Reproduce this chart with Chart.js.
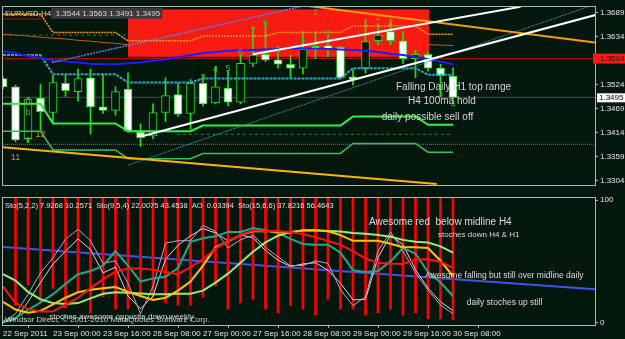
<!DOCTYPE html>
<html>
<head>
<meta charset="utf-8">
<title>EURUSD,H4</title>
<script src="https://cdn.jsdelivr.net/npm/chart.js@4.4.1/dist/chart.umd.min.js"></script>
<style>
  html, body { margin: 0; padding: 0; background: #04170c; }
  #wrap { position: relative; width: 625px; height: 339px; overflow: hidden; background: #04170c; }
  canvas { position: absolute; left: 0; display: block; }
  #priceChart { top: 0; }
  #oscChart { top: 191px; }
</style>
</head>
<body>
<div id="wrap">
  <canvas id="priceChart" width="625" height="192"></canvas>
  <canvas id="oscChart" width="625" height="148"></canvas>
</div>
<script>
// ---------- data ----------
// one x slot per H4 bar; the chart is shifted so some empty slots follow the last bar
var lastSlot = 47.36;
var timeTicks = [0, 4, 8, 12, 16, 20, 24, 28, 32, 36];
var timeLabels = ['22 Sep 2011', '23 Sep 00:00', '23 Sep 16:00', '26 Sep 08:00', '27 Sep 00:00',
  '27 Sep 16:00', '28 Sep 08:00', '29 Sep 00:00', '29 Sep 16:00', '30 Sep 08:00'];
var priceTicks = [1.3689, 1.3634, 1.3524, 1.3469, 1.3414, 1.3359, 1.3304];
var oscTicks = [0, 100];

// EURUSD H4 candles
var openP  = [1.3538, 1.3519, 1.3400, 1.3493, 1.3460, 1.3527, 1.3508, 1.3540, 1.3473, 1.3465,
              1.3514, 1.3415, 1.3406, 1.3460, 1.3501, 1.3458, 1.3527, 1.3482, 1.3516, 1.3484,
              1.3573, 1.3594, 1.3581, 1.3571, 1.3562, 1.3612, 1.3614, 1.3610, 1.3542, 1.3562,
              1.3625, 1.3646, 1.3625, 1.3584, 1.3594, 1.3562, 1.3544];
var highP  = [1.3542, 1.3523, 1.3495, 1.3525, 1.3545, 1.3547, 1.3560, 1.3560, 1.3547, 1.3519,
              1.3551, 1.3434, 1.3480, 1.3540, 1.3527, 1.3536, 1.3545, 1.3566, 1.3555, 1.3594,
              1.3657, 1.3668, 1.3610, 1.3592, 1.3646, 1.3646, 1.3636, 1.3612, 1.3560, 1.3675,
              1.3664, 1.3670, 1.3646, 1.3603, 1.3599, 1.3571, 1.3563];
var lowP   = [1.3514, 1.3393, 1.3391, 1.3419, 1.3436, 1.3497, 1.3486, 1.3410, 1.3458, 1.3454,
              1.3415, 1.3382, 1.3400, 1.3439, 1.3451, 1.3421, 1.3475, 1.3480, 1.3475, 1.3480,
              1.3566, 1.3577, 1.3562, 1.3538, 1.3549, 1.3584, 1.3588, 1.3538, 1.3523, 1.3551,
              1.3616, 1.3616, 1.3573, 1.3540, 1.3555, 1.3497, 1.3491];
var closeP = [1.3519, 1.3397, 1.3491, 1.3462, 1.3529, 1.3510, 1.3538, 1.3473, 1.3465, 1.3508,
              1.3417, 1.3402, 1.3460, 1.3499, 1.3456, 1.3527, 1.3480, 1.3519, 1.3484, 1.3573,
              1.3592, 1.3581, 1.3571, 1.3562, 1.3605, 1.3605, 1.3607, 1.3540, 1.3536, 1.3623,
              1.3638, 1.3625, 1.3584, 1.3594, 1.3562, 1.3545, 1.3495];

// indicators in the price window
var ma100 = [1.3601, 1.3597, 1.3590, 1.3586, 1.3580, 1.3577, 1.3575, 1.3572, 1.3571, 1.3571,
             1.3573, 1.3575, 1.3579, 1.3582, 1.3587, 1.3592, 1.3596, 1.3599, 1.3602, 1.3603,
             1.3604, 1.3605, 1.3606, 1.3607, 1.3607, 1.3607, 1.3606, 1.3605, 1.3604, 1.3602,
             1.3599, 1.3595, 1.3592, 1.3587, 1.3583, 1.3577, 1.3571];
var orangeLevel = [1.3686, 1.3686, 1.3686, 1.3686, 1.3644, 1.3644, 1.3644, 1.3644, 1.3644, 1.3644,
                   1.3625, 1.3625, 1.3625, 1.3625, 1.3625, 1.3625, 1.3636, 1.3636, 1.3636, 1.3636,
                   1.3636, 1.3636, 1.3644, 1.3644, 1.3644, 1.3644, 1.3644, 1.3644, 1.3659, 1.3659,
                   1.3659, 1.3659, 1.3659, 1.3659, 1.3640, 1.3640, 1.3640];
var cyanLevel = [1.3592, 1.3592, 1.3592, 1.3592, 1.3548, 1.3548, 1.3548, 1.3548, 1.3548, 1.3548,
                 1.3529, 1.3529, 1.3529, 1.3529, 1.3529, 1.3529, 1.3538, 1.3538, 1.3538, 1.3538,
                 1.3538, 1.3538, 1.3538, 1.3538, 1.3538, 1.3538, 1.3538, 1.3538, 1.3562, 1.3562,
                 1.3562, 1.3562, 1.3562, 1.3562, 1.3547, 1.3547, 1.3547];
var greenLevel = [1.3480, 1.3480, 1.3480, 1.3480, 1.3435, 1.3435, 1.3435, 1.3435, 1.3435, 1.3435,
                  1.3417, 1.3417, 1.3417, 1.3417, 1.3417, 1.3417, 1.3430, 1.3430, 1.3430, 1.3430,
                  1.3430, 1.3430, 1.3430, 1.3430, 1.3430, 1.3430, 1.3430, 1.3430, 1.3451, 1.3451,
                  1.3451, 1.3451, 1.3451, 1.3451, 1.3432, 1.3432, 1.3432];
var lowLevel = [1.3417, 1.3417, 1.3417, 1.3417, 1.3374, 1.3374, 1.3374, 1.3374, 1.3374, 1.3374,
                1.3354, 1.3354, 1.3354, 1.3354, 1.3354, 1.3354, 1.3366, 1.3366, 1.3366, 1.3366,
                1.3366, 1.3366, 1.3366, 1.3366, 1.3366, 1.3366, 1.3366, 1.3366, 1.3389, 1.3389,
                1.3389, 1.3389, 1.3389, 1.3389, 1.3369, 1.3369, 1.3369];
var brownLevel = [1.3640, 1.3638, 1.3636, 1.3633, 1.3631, 1.3629, 1.3626, 1.3624, 1.3621, 1.3619,
                  1.3616, null, null, null, null, null, null, null, null, null,
                  null, null, null, null, null, null, null, null, null, null,
                  null, null, null, null, 1.3616, 1.3615, 1.3614];
var redLevel = [1.3675, 1.3675, 1.3675, 1.3675, 1.3696, 1.3696, 1.3696, 1.3696, 1.3696, 1.3696,
                1.3696, null, null, null, null, null, null, null, null, null,
                null, null, null, null, null, null, null, null, null, null,
                null, null, null, null, null, null, null];

// drawn objects: [bar, price, bar, price]
var trendWhiteLow  = [11.2, 1.3406, 47.5, 1.3685];
var trendWhiteHigh = [20, 1.3594, 41.4, 1.3703];
var trendBlueDots  = [3.92, 1.3575, 23.76, 1.3703];
var trendTeal      = [10, 1.3339, 47.2, 1.3707];
var trendOrange    = [23.8, 1.3707, 47.36, 1.3621];
var trendYellow    = [0, 1.3380, 34.7, 1.3296];
var zoneBars   = [10, 34.08];
var zonePrices = [1.3697, 1.3588];
var redLinePrice = 1.3584;
var bidPrice = 1.3495;
var tealDotPrice = 1.3387;
var greenDash = [13.9, 1.3410, 36, 1.3410];
var darkDash  = [0, 1.3638, 11, 1.3638];

var priceNoteText  = ['Falling Daily H1 top range', 'H4 100ma hold', 'daily possible sell off'];
var priceNoteBar   = [31.44, 32.4, 30.3];
var priceNoteValue = [1.3519, 1.3486, 1.3449];

var waveText  = ['d', 'b', 'c', '12', '11', '3', '4', '5', '6', '7', '8', '1', '1', '2', '3', '2', '2', '3', '4'];
var waveBar   = [2, 2, 2, 3, 1, 16, 17, 18, 19, 20, 21, 22, 24, 25, 26, 30, 31, 35, 36];
var wavePrice = [1.3486, 1.3460, 1.3397, 1.3410, 1.3356, 1.3540, 1.3560, 1.3562, 1.3597, 1.3649,
                 1.3664, 1.3605, 1.3631, 1.3690, 1.3642, 1.3679, 1.3668, 1.3501, 1.3478];

// oscillator window
var stoSlowRed  = [29.5, 15.9, 11.2, 9.1, 9.1, 14.6, 20.3, 28.2, 35.3, 41.6, 44.2, 44.2, 43.2, 41.3, 39.5, 45.3,
                   51.6, 60.5, 66.8, 71.5, 75.2, 74.9, 74.7, 74.1, 72.3, 69.7, 66.8, 63.6, 58.4, 52.4,
                   48.9, 48.2, 47.9, 51.6, 51.8, 49.7, 44.7];
var stoYellow   = [16.9, 10.6, 8.0, 9.6, 14.8, 20.3, 24.8, 26.9, 28.0, 29.0, 25.1, 21.7, 18.5, 20.3, 26.1, 33.5,
                   46.6, 61.5, 66.3, 71.5, 74.7, 74.9, 74.1, 73.6, 75.5, 75.5, 74.7, 71.5, 66.8, 66.8,
                   66.8, 64.4, 61.5, 61.5, 61.0, 50.5, 38.0];
var stoGreen    = [39.5, 34.3, 25.1, 19.0, 15.9, 15.1, 15.9, 19.8, 23.5, 24.8, 24.3, 23.8, 23.2, 23.2, 23.5, 23.5,
                   26.1, 32.7, 40.0, 48.9, 57.9, 65.5, 71.0, 74.1, 75.2, 75.5, 74.9, 74.4, 73.3, 72.6,
                   71.5, 70.2, 67.6, 66.0, 65.5, 62.3, 57.1];
var stoTeal     = [1.2, 3.8, 10.4, 16.4, 23.2, 31.6, 39.5, 42.1, 46.6, 58.4, 46.6, 33.5, 36.1, 37.4, 44.5, 66.0,
                   68.9, 70.5, 74.1, 74.1, 77.3, 75.5, 73.1, 68.4, 64.2, 63.6, 63.6, 57.1, 42.7, 41.3,
                   42.1, 50.0, 61.0, 56.3, 41.3, 32.7, 21.7];
var stoFastPlum = [0, 7.2, 23.0, 40.6, 53.1, 68.1, 76.2, 66.9, 48.4, 50.5, 32.2, 7.2, 29.5, 65.0, 66.9, 66.9,
                   79.4, 74.7, 61.0, 67.6, 71.5, 61.5, 53.7, 46.6, 46.6, 50.5, 48.4, 26.9, 13.8, 21.1,
                   58.4, 74.1, 58.4, 40.6, 26.4, 14.3, 7.2];
var stoFastGray = [0, 2.8, 16.9, 32.7, 47.9, 58.4, 68.4, 59.7, 40.6, 45.3, 21.7, 11.2, 21.7, 51.8, 63.1, 71.0,
                   76.8, 73.3, 66.8, 71.5, 69.4, 58.9, 51.0, 45.8, 47.9, 48.9, 42.7, 32.2, 18.5, 19.0,
                   53.1, 71.5, 63.6, 43.2, 28.2, 16.9, 9.8];
var aoEnd = [null, 14, 31, 16, 28, 12, 25, 8, 21, 11, 11, 21, 19, 16, 14, 14, 21, 30, 11, 16,
             19, 11, 8, 14, 11, 6, 19, 11, 11, 6, 8, 11, 6, 8, 3, 3, 2];
var oscBlueLine = [0, 61.8, 47.36, 27.2];

var oscHeader = 'Sto(5,2,2) 7.9268 10.2571  Sto(9,5,4) 22.0075 43.4538  AO  0.03394  Sto(15,6,6) 37.8216 56.4643';
var oscNoteText  = ['Awesome red  below midline H4', 'stoches down H4 & H1',
                    'Awesome falling but still over midline daily', 'daily stoches up still',
                    'stoches awesome opposite down weekly'];
var oscNoteBar   = [29.28, 34.8, 33.76, 37.1, 3.7];
var oscNoteValue = [82.3, 72.0, 38.2, 16.1, 5.1];
var copyrightText = 'Windsor Direct, \u00a9 2001-2010 MetaQuotes Software Corp.';

// ---------- styles ----------
var BG = '#04170c';
var FRAME = '#b4b4b4';
var CANDLE = '#1ee01e';
var AXIS_FONT = "'Liberation Sans', Arial, sans-serif";
var TEXT_FONT = "'Liberation Sans', Arial, sans-serif";
var oscNoteSize = [10, 8, 8.5, 8.5, 8];
var waveColor = ['#2fbf2f', '#2fbf2f', '#2fbf2f', '#c8901a', '#c8901a', '#2fbf2f', '#2fbf2f', '#2fbf2f',
                 '#2fbf2f', '#2fbf2f', '#2fbf2f', '#2fbf2f', '#2fbf2f', '#c8901a', '#2fbf2f', '#c8901a',
                 '#c8901a', '#2fbf2f', '#2fbf2f'];

// ---------- helpers ----------
function pts(arr) {
  return arr.map(function (v, i) { return { x: i, y: v }; });
}
function seg(s) {
  return [{ x: s[0], y: s[1] }, { x: s[2], y: s[3] }];
}
function flat(v) {
  return [{ x: 0, y: v }, { x: lastSlot, y: v }];
}
function line(label, data, color, width, order, dash) {
  return { type: 'line', label: label, data: data, borderColor: color, borderWidth: width,
           borderDash: dash || [], pointRadius: 0, tension: 0, fill: false, order: order };
}
function frame(chart) {
  var a = chart.chartArea, ctx = chart.ctx;
  ctx.save();
  ctx.strokeStyle = FRAME;
  ctx.lineWidth = 1;
  ctx.strokeRect(Math.round(a.left) - 0.5, Math.round(a.top) - 0.5,
                 Math.round(a.width) + 1, Math.round(a.height) + 1);
  ctx.restore();
}
function noteAt(ctx, text, x, y, size, color) {
  ctx.font = size + 'px ' + TEXT_FONT;
  ctx.fillStyle = color;
  ctx.textAlign = 'left';
  ctx.textBaseline = 'middle';
  ctx.fillText(text, x, y);
}

var wicks = lowP.map(function (l, i) { return { x: i, y: [l, highP[i]] }; });
var bodies = openP.map(function (o, i) { return { x: i, y: [o, closeP[i]] }; });
var bodyColors = openP.map(function (o, i) { return closeP[i] < o ? '#ffffff' : BG; });

// ---------- price window ----------
var priceDecor = {
  id: 'priceDecor',
  beforeDatasetsDraw: function (chart) {
    var a = chart.chartArea, xs = chart.scales.x, ys = chart.scales.y, ctx = chart.ctx;
    ctx.save();
    ctx.beginPath();
    ctx.rect(a.left, a.top, a.width, a.height);
    ctx.clip();
    var x0 = xs.getPixelForValue(zoneBars[0]), x1 = xs.getPixelForValue(zoneBars[1]);
    var y0 = ys.getPixelForValue(zonePrices[0]), y1 = ys.getPixelForValue(zonePrices[1]);
    ctx.fillStyle = '#f91b12';
    ctx.fillRect(x0, y0, x1 - x0, y1 - y0);
    ctx.restore();
  },
  afterDraw: function (chart) {
    var a = chart.chartArea, xs = chart.scales.x, ys = chart.scales.y, ctx = chart.ctx;
    frame(chart);
    ctx.save();
    ctx.beginPath();
    ctx.rect(a.left, a.top, a.width, a.height);
    ctx.clip();
    // wave counts
    for (var i = 0; i < waveText.length; i++) {
      ctx.font = '9px ' + TEXT_FONT;
      ctx.fillStyle = waveColor[i];
      ctx.textAlign = 'center';
      ctx.textBaseline = 'middle';
      ctx.fillText(waveText[i], xs.getPixelForValue(waveBar[i]), ys.getPixelForValue(wavePrice[i]));
    }
    for (var j = 0; j < priceNoteText.length; j++) {
      noteAt(ctx, priceNoteText[j], xs.getPixelForValue(priceNoteBar[j]),
             ys.getPixelForValue(priceNoteValue[j]), 10, '#d4d4d4');
    }
    // symbol header
    var hdr = '  ' + openP[36].toFixed(4) + ' ' + highP[36].toFixed(4) + ' ' +
              lowP[36].toFixed(4) + ' ' + closeP[36].toFixed(4);
    ctx.font = '8px ' + TEXT_FONT;
    var w1 = ctx.measureText('EURUSD,H4').width;
    var w2 = ctx.measureText(hdr).width;
    ctx.fillStyle = '#3a3a3a';
    ctx.fillRect(a.left + 2 + w1, a.top + 1, w2 + 2, 11);
    noteAt(ctx, 'EURUSD,H4' + hdr, a.left + 2, a.top + 7, 8, '#d8d8d8');
    ctx.restore();
    // price tags on the axis
    ctx.save();
    var yr = ys.getPixelForValue(redLinePrice);
    ctx.fillStyle = '#f41a10';
    ctx.fillRect(a.right - 2, yr - 5, 32, 10);
    noteAt(ctx, redLinePrice.toFixed(4), a.right + 5, yr, 8, '#3a0000');
    var yb = ys.getPixelForValue(bidPrice);
    ctx.fillStyle = '#ffffff';
    ctx.fillRect(a.right + 2, yb - 4, 28, 9);
    noteAt(ctx, bidPrice.toFixed(4), a.right + 4, yb, 8, '#000000');
    ctx.restore();
  }
};

new Chart(document.getElementById('priceChart'), {
  type: 'bar',
  data: {
    datasets: [
      line('trend white low', seg(trendWhiteLow), '#ffffff', 2, 1),
      line('trend white high', seg(trendWhiteHigh), '#ffffff', 2, 1),
      line('trend orange', seg(trendOrange), '#ff9a00', 2, 3),
      line('trend yellow', seg(trendYellow), '#ffb400', 2, 3),
      line('trend blue dots', seg(trendBlueDots), '#5a7cf0', 1.5, 4, [2, 1]),
      line('trend teal', seg(trendTeal), '#2b8ea0', 1, 4, [2, 1]),
      line('ma100', pts(ma100), '#1c1cff', 2, 6),
      line('orange level', pts(orangeLevel), '#ff9a10', 1.5, 8, [2, 1]),
      line('brown level', pts(brownLevel), '#b8601a', 1, 8),
      line('red level', pts(redLevel), '#b01010', 1, 8),
      line('cyan level', pts(cyanLevel), '#2ba6b8', 2, 8, [3, 1]),
      line('green level', pts(greenLevel), '#33ee44', 2, 8),
      line('low level', pts(lowLevel), '#33c060', 1.5, 8),
      { label: 'bodies', data: bodies, backgroundColor: bodyColors, borderColor: CANDLE, borderWidth: 1,
        borderSkipped: false, barThickness: 8, grouped: false, order: 20 },
      { label: 'wicks', data: wicks, backgroundColor: CANDLE, borderWidth: 0,
        barThickness: 1, grouped: false, order: 21 },
      line('red line', flat(redLinePrice), '#b01010', 1, 30),
      line('bid line', flat(bidPrice), '#4a4a4a', 1, 30),
      line('teal dots', flat(tealDotPrice), '#2e9e7e', 1, 30, [1, 1]),
      line('green dash', seg(greenDash), '#1e8a30', 1, 30, [3, 3]),
      line('dark dash', seg(darkDash), '#1e7a30', 1, 30, [3, 3])
    ]
  },
  options: {
    responsive: false,
    animation: false,
    events: [],
    layout: { padding: { left: 3, top: 2, right: 0, bottom: 1 } },
    plugins: { legend: { display: false }, tooltip: { enabled: false } },
    scales: {
      x: { type: 'linear', display: false, min: 0, max: lastSlot, offset: false },
      y: {
        type: 'linear', position: 'right', min: 1.3293, max: 1.3703,
        afterBuildTicks: function (s) { s.ticks = priceTicks.map(function (v) { return { value: v }; }); },
        afterFit: function (s) { s.width = 30; },
        grid: { drawOnChartArea: false, drawTicks: true, tickLength: 3, color: FRAME },
        border: { display: false },
        ticks: { color: '#e4e4e4', padding: 2, font: { family: AXIS_FONT, size: 8 },
                 callback: function (v) { return v.toFixed(4); } }
      }
    }
  },
  plugins: [priceDecor]
});

// ---------- oscillator window ----------
var oscDecor = {
  id: 'oscDecor',
  afterDraw: function (chart) {
    var a = chart.chartArea, xs = chart.scales.x, ys = chart.scales.y, ctx = chart.ctx;
    frame(chart);
    ctx.save();
    noteAt(ctx, oscHeader, a.left + 2, a.top + 8, 7.5, '#e0e0e0');
    for (var i = 0; i < oscNoteText.length; i++) {
      noteAt(ctx, oscNoteText[i], xs.getPixelForValue(oscNoteBar[i]),
             ys.getPixelForValue(oscNoteValue[i]), oscNoteSize[i], '#dcdcdc');
    }
    noteAt(ctx, copyrightText, a.left + 2, a.bottom - 5, 8, '#d0d0d0');
    ctx.restore();
  }
};

new Chart(document.getElementById('oscChart'), {
  type: 'bar',
  data: {
    datasets: [
      line('Sto(15,6,6)', pts(stoSlowRed), '#ff1010', 2, 1),
      line('Sto(15,6,6) signal', pts(stoYellow), '#ffc400', 2, 2),
      line('daily sto', pts(stoGreen), '#8ef07a', 2, 3),
      line('Sto(9,5,4)', pts(stoTeal), '#1fa88a', 2, 4),
      line('Sto(5,2,2)', pts(stoFastPlum), '#c89ad0', 1, 5),
      line('Sto(5,2,2) signal', pts(stoFastGray), '#d8d8d8', 1, 5),
      { label: 'AO', data: aoEnd.map(function (v, i) { return { x: i, y: v === null ? null : [v, 110] }; }),
        backgroundColor: '#ff0000', borderWidth: 0, barThickness: 2, grouped: false, order: 10 },
      line('blue', seg(oscBlueLine), '#3a58e8', 2, 12)
    ]
  },
  options: {
    responsive: false,
    animation: false,
    events: [],
    layout: { padding: { left: 3, top: 2, right: 0, bottom: 0 } },
    plugins: { legend: { display: false }, tooltip: { enabled: false } },
    scales: {
      x: {
        type: 'linear', min: 0, max: lastSlot, offset: false,
        afterBuildTicks: function (s) { s.ticks = timeTicks.map(function (v) { return { value: v }; }); },
        afterFit: function (s) { s.height = 14; },
        grid: { drawOnChartArea: false, drawTicks: true, tickLength: 3, color: FRAME },
        border: { display: false },
        ticks: { align: 'start', maxRotation: 0, autoSkip: false, color: '#e4e4e4', padding: 1,
                 font: { family: AXIS_FONT, size: 8 },
                 callback: function (v) { return timeLabels[timeTicks.indexOf(v)]; } }
      },
      y: {
        type: 'linear', position: 'right', min: -2, max: 102,
        afterBuildTicks: function (s) { s.ticks = oscTicks.map(function (v) { return { value: v }; }); },
        afterFit: function (s) { s.width = 30; },
        grid: { drawOnChartArea: false, drawTicks: true, tickLength: 3, color: FRAME },
        border: { display: false },
        ticks: { color: '#e4e4e4', padding: 2, font: { family: AXIS_FONT, size: 8 } }
      }
    }
  },
  plugins: [oscDecor]
});
</script>
</body>
</html>
